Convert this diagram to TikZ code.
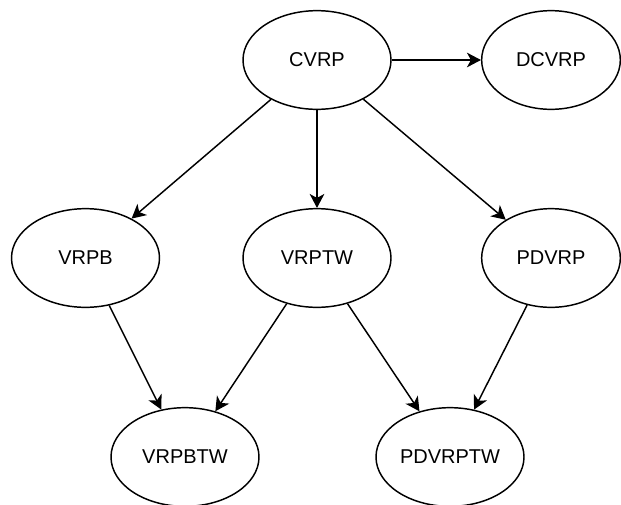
\documentclass[tikz,border=0pt]{standalone}
\usepackage{fontspec}
\setmainfont{Liberation Sans}
\usetikzlibrary{shapes.geometric,arrows.meta}
\begin{document}
\begin{tikzpicture}[x=0.75pt,y=-0.75pt,
  oval/.style={draw=black,line width=1.1pt,ellipse,minimum width=111pt,minimum height=74pt,inner sep=0pt,font=\fontsize{15}{18}\selectfont},
  ovalnarrow/.style={oval,minimum width=104pt},
  link/.style={draw=black,line width=1.1pt,-{Stealth[length=10.5pt,width=11pt,inset=3pt]}}]
\useasboundingbox (0,0) rectangle (621,504);
\node[oval] (cvrp) at (317,60) {CVRP};
\node[ovalnarrow] (dcvrp) at (551,60) {DCVRP};
\node[oval] (vrpb) at (85.5,258) {VRPB};
\node[oval] (vrptw) at (317,258) {VRPTW};
\node[ovalnarrow] (pdvrp) at (551,258) {PDVRP};
\node[oval] (vrpbtw) at (185,457) {VRPBTW};
\node[oval] (pdvrptw) at (450,457) {PDVRPTW};
\draw[link] (cvrp) -- (dcvrp);
\draw[link] (cvrp) -- (vrpb);
\draw[link] (cvrp) -- (vrptw);
\draw[link] (cvrp) -- (pdvrp);
\draw[link] (vrpb) -- (vrpbtw);
\draw[link] (vrptw) -- (vrpbtw);
\draw[link] (vrptw) -- (pdvrptw);
\draw[link] (pdvrp) -- (pdvrptw);
\end{tikzpicture}
\end{document}
